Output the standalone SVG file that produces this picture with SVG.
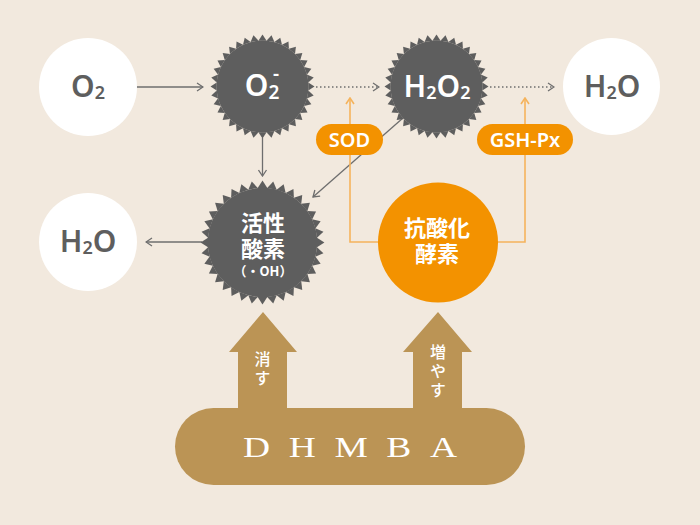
<svg xmlns="http://www.w3.org/2000/svg" xmlns:xlink="http://www.w3.org/1999/xlink" width="700" height="525" viewBox="0 0 700 525">
<style>
.bg{fill:#f2e9de}
.wc{fill:#ffffff}
.burst{fill:#5e5e5e}
.conn{stroke:#6e6e6e;stroke-width:1.3;fill:none}
.dot{stroke:#6e6e6e;stroke-width:1.3;fill:none;stroke-dasharray:1.5 2.5}
.oconn{stroke:#f5b35c;stroke-width:1.6;fill:none}
.pill{fill:#f39200}
.gold{fill:#bb9455}
.dk{font-family:"Noto Sans","Liberation Sans",sans-serif;font-weight:600;fill:#5e5e5e;text-anchor:middle}
.wt{font-family:"Noto Sans","Liberation Sans",sans-serif;font-weight:600;fill:#ffffff;text-anchor:middle}
.jp{font-family:"Noto Sans CJK JP","Noto Sans",sans-serif;font-weight:700;fill:#ffffff;text-anchor:middle}
.vt{font-family:"Noto Sans CJK JP","Noto Sans",sans-serif;font-weight:500;fill:#ffffff;writing-mode:vertical-rl;font-size:16px;letter-spacing:3px}
.ser{font-family:"Liberation Serif",serif;fill:#ffffff}
</style>
<defs>
<polygon id="sp" points="-4.05,-45.8 0,-52 4.05,-45.8"/>
<g id="burst">
<circle r="46"/>
<use xlink:href="#sp"/><use xlink:href="#sp" transform="rotate(10)"/><use xlink:href="#sp" transform="rotate(20)"/><use xlink:href="#sp" transform="rotate(30)"/><use xlink:href="#sp" transform="rotate(40)"/><use xlink:href="#sp" transform="rotate(50)"/><use xlink:href="#sp" transform="rotate(60)"/><use xlink:href="#sp" transform="rotate(70)"/><use xlink:href="#sp" transform="rotate(80)"/><use xlink:href="#sp" transform="rotate(90)"/><use xlink:href="#sp" transform="rotate(100)"/><use xlink:href="#sp" transform="rotate(110)"/><use xlink:href="#sp" transform="rotate(120)"/><use xlink:href="#sp" transform="rotate(130)"/><use xlink:href="#sp" transform="rotate(140)"/><use xlink:href="#sp" transform="rotate(150)"/><use xlink:href="#sp" transform="rotate(160)"/><use xlink:href="#sp" transform="rotate(170)"/><use xlink:href="#sp" transform="rotate(180)"/><use xlink:href="#sp" transform="rotate(190)"/><use xlink:href="#sp" transform="rotate(200)"/><use xlink:href="#sp" transform="rotate(210)"/><use xlink:href="#sp" transform="rotate(220)"/><use xlink:href="#sp" transform="rotate(230)"/><use xlink:href="#sp" transform="rotate(240)"/><use xlink:href="#sp" transform="rotate(250)"/><use xlink:href="#sp" transform="rotate(260)"/><use xlink:href="#sp" transform="rotate(270)"/><use xlink:href="#sp" transform="rotate(280)"/><use xlink:href="#sp" transform="rotate(290)"/><use xlink:href="#sp" transform="rotate(300)"/><use xlink:href="#sp" transform="rotate(310)"/><use xlink:href="#sp" transform="rotate(320)"/><use xlink:href="#sp" transform="rotate(330)"/><use xlink:href="#sp" transform="rotate(340)"/><use xlink:href="#sp" transform="rotate(350)"/>
</g>
<marker id="ah" viewBox="0 0 10 10" refX="9" refY="5" markerWidth="10" markerHeight="10" markerUnits="userSpaceOnUse" orient="auto">
<path d="M3,1 L9,5 L3,9" fill="none" stroke="#6e6e6e" stroke-width="1.3"/>
</marker>
<marker id="oh" viewBox="0 0 10 10" refX="9" refY="5" markerWidth="10" markerHeight="10" markerUnits="userSpaceOnUse" orient="auto">
<path d="M3,1 L9,5 L3,9" fill="none" stroke="#f5b35c" stroke-width="1.6"/>
</marker>
</defs>
<rect class="bg" x="0" y="0" width="700" height="525"/>

<g id="connectors">
<line class="conn" x1="136" y1="87" x2="203" y2="87" marker-end="url(#ah)"/>
<line class="dot" x1="316" y1="87" x2="379" y2="87" marker-end="url(#ah)"/>
<line class="dot" x1="490" y1="87" x2="554" y2="87" marker-end="url(#ah)"/>
<line class="conn" x1="262.5" y1="138" x2="262.5" y2="176" marker-end="url(#ah)"/>
<line class="conn" x1="403" y1="118" x2="313" y2="197" marker-end="url(#ah)"/>
<line class="conn" x1="202" y1="242" x2="146" y2="242" marker-end="url(#ah)"/>
<polyline class="oconn" points="379,242 350,242 350,98" marker-end="url(#oh)"/>
<polyline class="oconn" points="497,242 525,242 525,98" marker-end="url(#oh)"/>
</g>

<g id="o2">
<circle class="wc" cx="88" cy="87" r="49"/>
<text class="dk" x="88" y="97" font-size="30">O<tspan font-size="18" dy="2">2</tspan></text>
</g>

<g id="o2minus">
<use xlink:href="#burst" class="burst" transform="translate(262.5,86.5)"/>
<text class="wt" x="262" y="96" font-size="30">O<tspan font-size="19" dy="3">2</tspan><tspan font-size="19" x="276" dy="-19">-</tspan></text>
</g>

<g id="h2o2">
<use xlink:href="#burst" class="burst" transform="translate(436.5,86.5)"/>
<text class="wt" x="437" y="97" font-size="30">H<tspan font-size="18" dy="2">2</tspan><tspan dy="-2">O</tspan><tspan font-size="18" dy="2">2</tspan></text>
</g>

<g id="h2o-right">
<circle class="wc" cx="611.5" cy="86.5" r="48.5"/>
<text class="dk" x="612" y="97" font-size="30">H<tspan font-size="18" dy="2">2</tspan><tspan dy="-2">O</tspan></text>
</g>

<g id="h2o-left">
<circle class="wc" cx="88" cy="242" r="49"/>
<text class="dk" x="88" y="252" font-size="30">H<tspan font-size="18" dy="2">2</tspan><tspan dy="-2">O</tspan></text>
</g>

<g id="ros">
<use xlink:href="#burst" class="burst" transform="translate(262.5,242.5) scale(1.19)"/>
<text class="jp" x="263" y="231" font-size="22">活性</text>
<text class="jp" x="263" y="257" font-size="22">酸素</text>
<text class="jp" x="263" y="276" font-size="13" font-weight="500">（・OH）</text>
</g>

<g id="antioxidant">
<circle cx="438" cy="242.5" r="60" fill="#f39200"/>
<text class="jp" x="437" y="236" font-size="22">抗酸化</text>
<text class="jp" x="437" y="262" font-size="22">酵素</text>
</g>

<g id="sod">
<rect class="pill" x="316" y="124" width="67" height="31" rx="15.5"/>
<text class="wt" x="349.5" y="146.5" font-size="20" font-weight="400">SOD</text>
</g>

<g id="gshpx">
<rect class="pill" x="477" y="124" width="96" height="31" rx="15.5"/>
<text class="wt" x="525" y="146.5" font-size="20" font-weight="400">GSH-Px</text>
</g>

<g id="dhmba">
<polygon class="gold" points="263,312 297,352 287,352 287,410 238,410 238,352 229,352"/>
<polygon class="gold" points="438,312 472,352 462,352 462,410 413,410 413,352 403,352"/>
<rect class="gold" x="175" y="408" width="350" height="77" rx="38.5"/>
<text class="ser" transform="translate(350,457) scale(1.25,1)" x="-85.6" y="0" font-size="30" letter-spacing="14.9">DHMBA</text>
<text class="vt" x="262.5" y="351">消す</text>
<text class="vt" x="438" y="344">増やす</text>
</g>
</svg>
